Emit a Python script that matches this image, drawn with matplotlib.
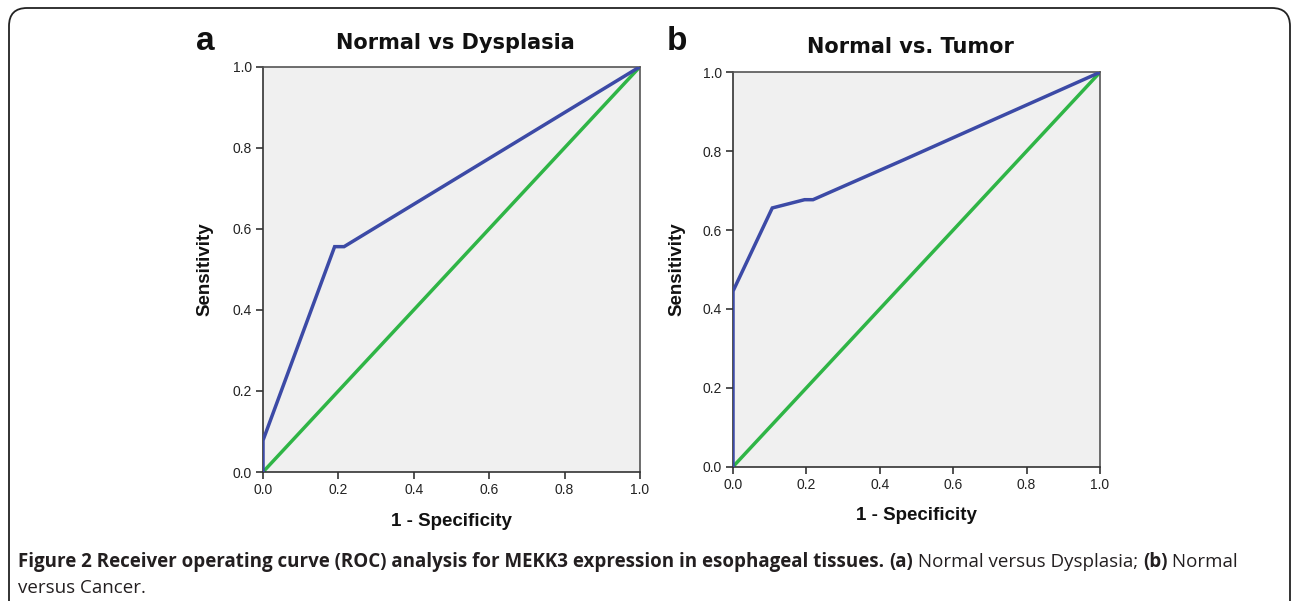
import matplotlib
matplotlib.use("Agg")
import matplotlib.pyplot as plt
from matplotlib.patches import FancyBboxPatch

# Data
fpr_a = [0.0, 0.0, 0.19, 0.215, 1.0]
tpr_a = [0.0, 0.078, 0.556, 0.556, 1.0]
fpr_b = [0.0, 0.0, 0.107, 0.195, 0.218, 0.465, 0.72, 1.0]
tpr_b = [0.0, 0.445, 0.656, 0.677, 0.677, 0.778, 0.884, 1.0]
ref_x = [0.0, 1.0]
ref_y = [0.0, 1.0]
ticks = [0.0, 0.2, 0.4, 0.6, 0.8, 1.0]
tick_labels = ["0.0", "0.2", "0.4", "0.6", "0.8", "1.0"]
titles = ["Normal vs Dysplasia", "Normal vs. Tumor"]
panel_labels = ["a", "b"]

W, H = 1292, 601
fig = plt.figure(figsize=(W / 100, H / 100), dpi=100)
fig.patch.set_facecolor("white")

# rounded frame
frame = FancyBboxPatch((9 / W, -0.2), (1290 - 9) / W, (H - 8) / H + 0.2,
                       boxstyle="round,pad=0,rounding_size=0.014",
                       transform=fig.transFigure, fill=False, edgecolor="#222222",
                       linewidth=1.3, mutation_aspect=W / H)
fig.add_artist(frame)

BLUE = "#3c4aa6"
GREEN = "#2fb546"


def px_axes(x0, x1, ytop, ybot):
    return [x0 / W, 1 - ybot / H, (x1 - x0) / W, (ybot - ytop) / H]


axes_specs = [px_axes(263, 640, 66.7, 472), px_axes(733, 1100, 72.3, 466.7)]
data = [(fpr_a, tpr_a), (fpr_b, tpr_b)]
label_pos = [(196, 50), (667, 50)]
ylabel_x = [205, 677]
xlabel_y = [522, 516]
title_y = [43, 47]
title_cx = [455, 910]

for i, spec in enumerate(axes_specs):
    ax = fig.add_axes(spec)
    ax.set_facecolor("#f0f0f0")
    ax.plot(ref_x, ref_y, color=GREEN, lw=2.5, solid_capstyle="round", zorder=2)
    ax.plot(data[i][0], data[i][1], color=BLUE, lw=2.5, solid_joinstyle="miter", zorder=3)
    ax.set_xlim(0, 1)
    ax.set_ylim(0, 1)
    ax.set_xticks(ticks)
    ax.set_yticks(ticks)
    ax.set_xticklabels(tick_labels, family="Liberation Sans")
    ax.set_yticklabels(tick_labels, family="Liberation Sans")
    ax.tick_params(direction="out", length=5, width=1.2, color="#333333",
                   labelsize=10, labelcolor="#222222", pad=3)
    for s in ax.spines.values():
        s.set_color("#555555")
        s.set_linewidth(1.2)
    ax.spines["left"].set_color("#333333")
    ax.spines["bottom"].set_color("#333333")
    cx = (spec[0] + spec[2] / 2)
    fig.text(title_cx[i] / W, 1 - title_y[i] / H, titles[i], ha="center", va="center",
             fontsize=15, fontweight="heavy", family="DejaVu Sans", color="#111111")
    fig.text(label_pos[i][0] / W, 1 - label_pos[i][1] / H, panel_labels[i],
             ha="left", va="baseline", fontsize=24, fontweight="bold",
             family="Liberation Sans", color="#111111")
    fig.text(ylabel_x[i] / W, spec[1] + spec[3] / 2, "Sensitivity", rotation=90,
             ha="center", va="center", fontsize=13.5, fontweight="bold",
             family="Liberation Sans", color="#111111")
    fig.text(cx, 1 - xlabel_y[i] / H, "1 - Specificity", ha="center", va="center",
             fontsize=13.5, fontweight="bold", family="Liberation Sans", color="#111111")

# caption
fig.canvas.draw()
renderer = fig.canvas.get_renderer()
cap_fs = 13.5
segments = [("Figure 2 Receiver operating curve (ROC) analysis for MEKK3 expression in esophageal tissues. ", "bold"),
            ("(a)", "bold"), (" Normal versus Dysplasia; ", "normal"),
            ("(b)", "bold"), (" Normal", "normal")]
x = 18
y1 = 1 - 567 / H
for txt, wt in segments:
    t = fig.text(x / W, y1, txt, ha="left", va="baseline", fontsize=cap_fs,
                 fontweight=wt, family="Open Sans", color="#231f20")
    bb = t.get_window_extent(renderer)
    x += bb.width
fig.text(18 / W, 1 - 593 / H, "versus Cancer.", ha="left", va="baseline",
         fontsize=cap_fs, family="Open Sans", color="#231f20")

fig.savefig("out.png", dpi=100, facecolor="white")
